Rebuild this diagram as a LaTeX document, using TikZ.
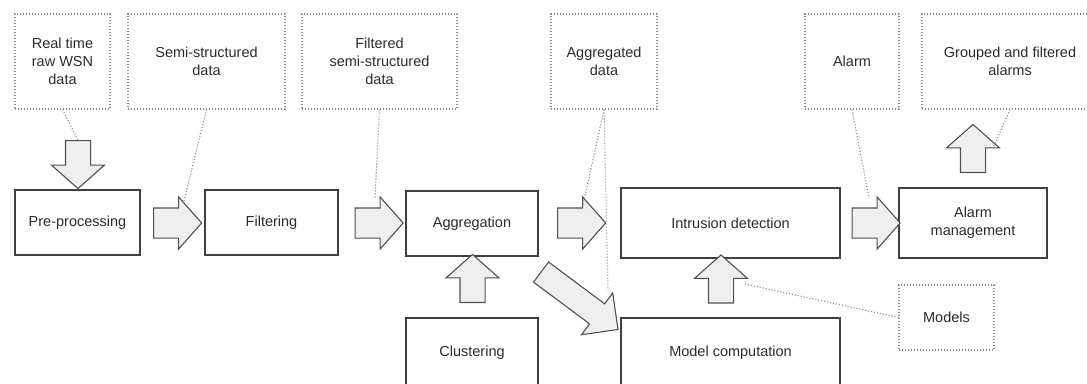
\documentclass[tikz,border=0pt]{standalone}
\usepackage{fontspec}
\setmainfont{Liberation Sans}
\usetikzlibrary{shapes.arrows}
\definecolor{boxline}{HTML}{404040}
\definecolor{txtc}{HTML}{2B2B2B}
\definecolor{arrline}{HTML}{505050}
\definecolor{arrfill}{HTML}{EFEFEF}
\definecolor{dotc}{HTML}{8C8C8C}
\begin{document}
\begin{tikzpicture}[x=1pt,y=-1pt,
  txt/.style={text=txtc, font=\fontsize{14.5}{18}\selectfont, align=center, inner sep=0pt},
  box/.style={txt, draw=boxline, line width=1.2pt, fill=white},
  dbox/.style={txt, draw=dotc, line width=1.1pt, dash pattern=on 1.1pt off 1.9pt},
  dline/.style={draw=dotc, line width=1.1pt, dash pattern=on 1.1pt off 1.9pt},
  fat/.style={single arrow, draw=arrline, fill=arrfill, line width=1.1pt, inner xsep=0pt, minimum height=48pt, minimum width=0pt},
  fath/.style={fat, inner ysep=14.5pt, single arrow head extend=11pt, single arrow tip angle=97},
  fatv/.style={fat, inner ysep=12pt, single arrow head extend=14pt, single arrow tip angle=97},
  fatd/.style={fat, minimum height=96pt, inner ysep=12pt, single arrow head extend=13.5pt, single arrow tip angle=90}
]
\useasboundingbox (0,0) rectangle (1087,383);
\clip (0,0) rectangle (1087,383);

% main boxes
\node[box, minimum width=125pt, minimum height=65pt] (pre) at (77.5,222.5) {Pre-processing};
\node[box, minimum width=133pt, minimum height=65pt] (filt) at (271.5,222.5) {Filtering};
\node[box, minimum width=132pt, minimum height=65pt] (aggr) at (472,223.5) {Aggregation};
\node[box, minimum width=219pt, minimum height=70pt] (intr) at (730.5,223) {Intrusion detection};
\node[box, minimum width=148pt, minimum height=70pt] (almm) at (973,223) {Alarm\\management};
\node[box, minimum width=132pt, minimum height=70pt] (clus) at (472,353) {Clustering};
\node[box, minimum width=219pt, minimum height=70pt] (model) at (730.5,353) {Model computation};

% data boxes
\node[dbox, minimum width=95pt, minimum height=95pt] (rt) at (62.5,61.5) {Real time\\raw WSN\\data};
\node[dbox, minimum width=157pt, minimum height=95pt] (semi) at (206.5,61.5) {Semi-structured\\data};
\node[dbox, minimum width=155pt, minimum height=95pt] (filtd) at (379.5,61.5) {Filtered\\semi-structured\\data};
\node[dbox, minimum width=106pt, minimum height=95pt] (aggd) at (604,61.5) {Aggregated\\data};
\node[dbox, minimum width=94pt, minimum height=95pt] (alarm) at (852,61.5) {Alarm};
\node[dbox, minimum width=176pt, minimum height=95pt] (grp) at (1010,61.5) {Grouped and filtered\\alarms};
\node[dbox, minimum width=95pt, minimum height=65pt] (models) at (946.5,317.5) {Models};

% fat arrows
\node[fath] (a1) at (171,223) {};
\node[fath] (a2) at (372.5,223) {};
\node[fath] (a3) at (575,223) {};
\node[fath] (a4) at (869.5,223) {};
\node[fatv, rotate=-90] (ad) at (78,159) {};
\node[fatv, rotate=90] (ac) at (472.5,284) {};
\node[fatv, rotate=90] (ai) at (721,284.5) {};
\node[fatv, rotate=90] (aa) at (973,154) {};
\node[fatd, rotate=-36.7] (adg) at (574.5,297) {};

% dotted connector ends
\coordinate (p2) at (183,205);
\coordinate (p3) at (375,198);
\coordinate (p4) at (583,205);
\coordinate (p5) at (608,290);
\coordinate (p6) at (869,198);
\coordinate (p7) at (993,148);
\coordinate (p8) at (745,284);

\draw[dline] (rt.south) -- (ad.tail);
\draw[dline] (semi.south) -- (p2);
\draw[dline] (filtd.south) -- (p3);
\draw[dline] (aggd.south) -- (p4);
\draw[dline] (aggd.south) -- (p5);
\draw[dline] (alarm.south) -- (p6);
\draw[dline] (grp.south) -- (p7);
\draw[dline] (models.west) -- (p8);
\end{tikzpicture}
\end{document}
